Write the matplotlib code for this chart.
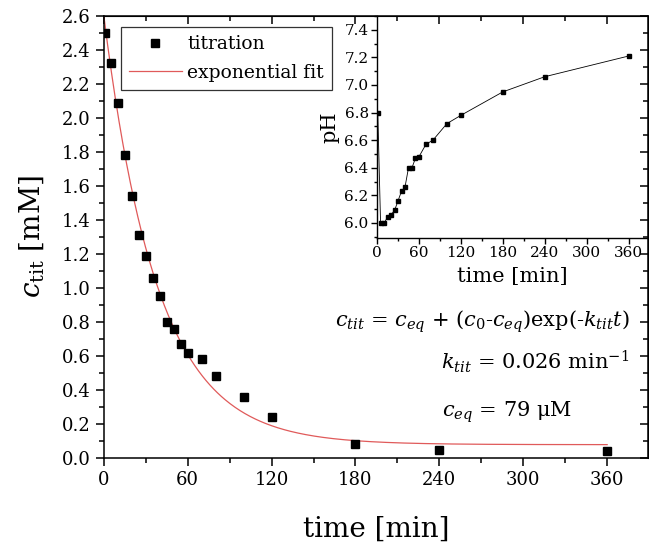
import numpy as np
import matplotlib
matplotlib.use("Agg")
import matplotlib.pyplot as plt
from matplotlib.ticker import MultipleLocator

plt.rcParams["font.family"] = ["DejaVu Serif"]
plt.rcParams["mathtext.fontset"] = "dejavuserif"

# titration data (main panel)
time_min = [1, 5, 10, 15, 20, 25, 30, 35, 40, 45, 50, 55, 60, 70, 80, 100, 120, 180, 240, 360]
c_tit = [2.50, 2.32, 2.09, 1.78, 1.54, 1.31, 1.19, 1.06, 0.95, 0.80, 0.76, 0.67, 0.62,
         0.58, 0.48, 0.36, 0.24, 0.08, 0.05, 0.04]

# pH during titration (inset)
ph = [6.80, 6.00, 6.00, 6.04, 6.06, 6.09, 6.16, 6.23, 6.26, 6.40, 6.40, 6.47, 6.48,
      6.57, 6.60, 6.72, 6.78, 6.95, 7.06, 7.21]

# exponential fit parameters
c0 = 2.6        # mM
c_eq = 0.079    # mM
k_tit = 0.026   # 1/min
fit_t = np.linspace(0, 360, 400)
fit_c = c_eq + (c0 - c_eq) * np.exp(-k_tit * fit_t)

fig = plt.figure(figsize=(6.49, 5.46), dpi=100)
ax = fig.add_axes([0.160, 0.161, 0.838, 0.810])

ax.plot(time_min, c_tit, "s", color="black", ms=6, label="titration", zorder=3)
ax.plot(fit_t, fit_c, "-", color="#e05a5a", lw=0.9, label="exponential fit")

ax.set_xlim(0, 389)
ax.set_ylim(0, 2.6)
ax.xaxis.set_major_locator(MultipleLocator(60))
ax.xaxis.set_minor_locator(MultipleLocator(30))
ax.yaxis.set_major_locator(MultipleLocator(0.2))
ax.yaxis.set_minor_locator(MultipleLocator(0.1))
ax.yaxis.set_major_formatter(lambda v, p: f"{v:.1f}")
ax.tick_params(which="major", direction="out", length=6, width=1.1, labelsize=13)
ax.tick_params(which="minor", direction="out", length=3.5, width=1.1)
for s in ax.spines.values():
    s.set_linewidth(1.1)

# mirrored ticks on top and right, pointing inwards
top = ax.secondary_xaxis("top")
top.xaxis.set_major_locator(MultipleLocator(60))
top.xaxis.set_minor_locator(MultipleLocator(30))
top.tick_params(which="major", direction="in", length=6, width=1.1, labeltop=False)
top.tick_params(which="minor", direction="in", length=3.5, width=1.1)
right = ax.secondary_yaxis("right")
right.yaxis.set_major_locator(MultipleLocator(0.2))
right.yaxis.set_minor_locator(MultipleLocator(0.1))
right.tick_params(which="major", direction="in", length=6, width=1.1, labelright=False)
right.tick_params(which="minor", direction="in", length=3.5, width=1.1)

ax.set_xlabel("time [min]", fontsize=20, labelpad=19)
ax.set_ylabel(r"$c_{\mathrm{tit}}$ [mM]", fontsize=20, labelpad=11)

leg = ax.legend(loc="upper left", bbox_to_anchor=(0.031, 0.975), borderaxespad=0,
                fontsize=13.5, frameon=True, fancybox=False, handlelength=2.8,
                handletextpad=0.3, borderpad=0.45, labelspacing=0.55)
leg.get_frame().set_edgecolor("black")
leg.get_frame().set_linewidth(0.9)

# fit equation and parameters
ax.text(376, 0.80, r"$c_{tit}$ = $c_{eq}$ + ($c_0$-$c_{eq}$)exp(-$k_{tit}t$)",
        fontsize=15, ha="right", va="center")
ax.text(241, 0.565, r"$k_{tit}$ = 0.026 min$^{-1}$", fontsize=15, ha="left", va="center")
ax.text(242, 0.27, r"$c_{eq}$ = 79 μM", fontsize=15, ha="left", va="center")

# inset: pH
ins = fig.add_axes([0.581, 0.564, 0.4176, 0.4066])
ins.patch.set_alpha(0)
ins.plot(time_min, ph, "-s", color="black", lw=0.6, ms=3.2, mfc="black")
ins.set_xlim(0, 388)
ins.set_ylim(5.89, 7.5)
ins.spines["top"].set_visible(False)
ins.spines["right"].set_visible(False)
ins.spines["left"].set_linewidth(1.0)
ins.spines["bottom"].set_linewidth(1.0)
ins.xaxis.set_major_locator(MultipleLocator(60))
ins.xaxis.set_minor_locator(MultipleLocator(30))
ins.yaxis.set_major_locator(MultipleLocator(0.2))
ins.yaxis.set_minor_locator(MultipleLocator(0.1))
ins.yaxis.set_major_formatter(lambda v, p: f"{v:.1f}")
ins.tick_params(which="major", direction="out", length=4, width=1.0, labelsize=11, pad=2)
ins.tick_params(which="minor", direction="out", length=2.5, width=1.0)
ins.set_xlabel("time [min]", fontsize=15, labelpad=5)
ins.set_ylabel("pH", fontsize=15, labelpad=4)

fig.savefig("out.png", dpi=100)
